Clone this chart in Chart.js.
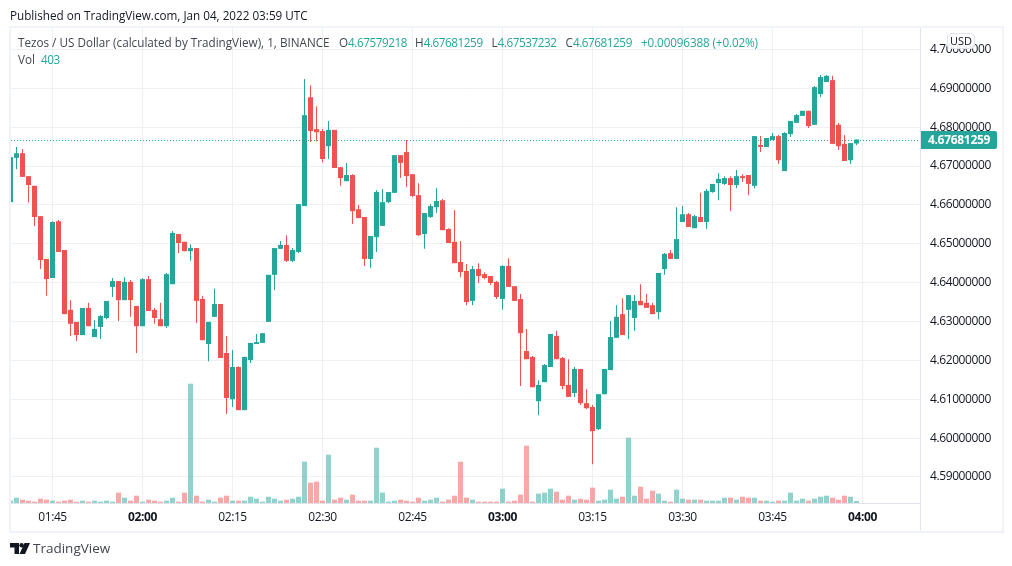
<!DOCTYPE html>
<html><head><meta charset="utf-8">
<script src="https://cdn.jsdelivr.net/npm/chart.js@4/dist/chart.umd.min.js"></script>
<style>
html,body{margin:0;padding:0;background:#fff;width:1012px;height:566px;overflow:hidden}
body{position:relative;font-family:"Open Sans",sans-serif;color:#131722}
canvas{position:absolute;left:0;top:0}
.t{position:absolute;white-space:pre;font-size:11.7px;line-height:16px}
.g{color:#26a69a;letter-spacing:-.42px}
.m{color:#26a69a;letter-spacing:-.12px}
#frame{position:absolute;left:9px;top:26px;width:991px;height:503px;border:2px solid #f0f3fa;box-sizing:content-box}
#sep{position:absolute;left:920px;top:28px;width:1px;height:502px;background:#e0e3eb}
#tag{position:absolute;left:921px;top:131px;width:76px;height:18px;background:#26a69a;color:#fff;font-weight:700;font-size:12px;letter-spacing:-.3px;line-height:18px;text-align:center;border-radius:0 2px 2px 0}
#usd{position:absolute;left:947px;top:33px;width:26px;height:14px;line-height:14px;background:rgba(255,255,255,.9);border:1px solid #e0e3eb;border-radius:4px;font-size:11px;text-align:center}
#logo{position:absolute;left:10px;top:543px}
</style></head><body>
<div id="frame"></div>
<canvas id="c" width="1012" height="566" style="width:1012px;height:566px"></canvas>
<div id="sep"></div>
<div class="t" style="left:10px;top:7px;color:#131722">Published on TradingView.com, Jan 04, 2022 03:59 UTC</div>
<div class="t" style="left:18px;top:34px;color:#434651">Tezos / US Dollar (calculated by TradingView), 1, BINANCE</div>
<div class="t" style="left:339px;top:34px;color:#434651">O<span class="g">4.67579218</span></div>
<div class="t" style="left:415px;top:34px;color:#434651">H<span class="g">4.67681259</span></div>
<div class="t" style="left:491.5px;top:34px;color:#434651">L<span class="g">4.67537232</span></div>
<div class="t" style="left:565.5px;top:34px;color:#434651">C<span class="g">4.67681259</span></div>
<div class="t" style="left:641px;top:34px"><span class="m">+0.00096388 (+0.02%)</span></div>
<div class="t" style="left:18px;top:51px;color:#434651">Vol  <span class="g">403</span></div>
<div id="tag">4.67681259</div>
<div id="usd">USD</div>
<svg id="logo" width="20" height="11" viewBox="0 0 20 11"><path fill="#131722" d="M0 0h9v11H4.5V4.5H0z"/><circle fill="#131722" cx="11.6" cy="2.2" r="2.2"/><path fill="#131722" d="M14.5 0H20L15 11H9.5z"/></svg>
<div class="t" style="left:33px;top:540px;font-size:13.5px;color:#434651">TradingView</div>
<script>
const startMinute = 98; // 01:38
const tickLabelEvery = 15;
const priceTicks = [4.59,4.60,4.61,4.62,4.63,4.64,4.65,4.66,4.67,4.68,4.69,4.70];
const priceLine = 4.67657;
const opens = [
4.6607,4.6721,4.6733,4.6674,4.6649,4.6571,4.6461,4.6412,4.6558,4.6484,
4.6330,4.6299,4.6265,4.6335,4.6260,4.6286,4.6309,4.6389,4.6404,4.6355,
4.6402,4.6340,4.6288,4.6409,4.6330,4.6306,4.6288,4.6396,4.6525,4.6505,
4.6481,4.6489,4.6358,4.6242,4.6312,4.6345,4.6219,4.6100,4.6183,4.6072,
4.6201,4.6242,4.6245,4.6299,4.6420,4.6487,4.6497,4.6456,4.6479,4.6597,
4.6877,4.6795,4.6790,4.6751,4.6793,4.6697,4.6661,4.6677,4.6589,4.6569,
4.6461,4.6517,4.6546,4.6607,4.6631,4.6728,4.6736,4.6679,4.6625,4.6525,
4.6569,4.6594,4.6612,4.6538,4.6505,4.6453,4.6430,4.6353,4.6435,4.6422,
4.6417,4.6402,4.6358,4.6443,4.6391,4.6358,4.6224,4.6209,4.6095,4.6144,
4.6183,4.6263,4.6206,4.6137,4.6116,4.6178,4.6090,4.6080,4.6023,4.6113,
4.6175,4.6258,4.6319,4.6330,4.6309,4.6353,4.6348,4.6342,4.6324,4.6435,
4.6476,4.6461,4.6556,4.6576,4.6540,4.6569,4.6556,4.6633,4.6656,4.6654,
4.6669,4.6651,4.6674,4.6677,4.6649,4.6754,4.6749,4.6767,4.6777,4.6687,
4.6782,4.6811,4.6829,4.6842,4.6806,4.6885,4.6916,4.6921,4.6806,4.6757,
4.6715,4.67579218];
const highs = [
4.6728,4.6749,4.6744,4.6674,4.6649,4.6571,4.6461,4.6558,4.6561,4.6484,
4.6355,4.6299,4.6335,4.6348,4.6304,4.6317,4.6353,4.6412,4.6404,4.6414,
4.6407,4.6340,4.6412,4.6417,4.6335,4.6348,4.6425,4.6533,4.6525,4.6505,
4.6499,4.6489,4.6366,4.6299,4.6384,4.6345,4.6263,4.6227,4.6185,4.6209,
4.6245,4.6268,4.6270,4.6420,4.6489,4.6507,4.6522,4.6489,4.6602,4.6924,
4.6908,4.6854,4.6795,4.6816,4.6793,4.6697,4.6708,4.6679,4.6600,4.6569,
4.6520,4.6638,4.6641,4.6633,4.6728,4.6728,4.6767,4.6679,4.6656,4.6579,
4.6602,4.6643,4.6615,4.6540,4.6587,4.6507,4.6448,4.6443,4.6450,4.6427,
4.6417,4.6404,4.6445,4.6463,4.6391,4.6371,4.6281,4.6211,4.6149,4.6191,
4.6268,4.6276,4.6209,4.6203,4.6183,4.6178,4.6126,4.6085,4.6113,4.6178,
4.6301,4.6342,4.6360,4.6368,4.6368,4.6396,4.6371,4.6348,4.6425,4.6476,
4.6484,4.6594,4.6597,4.6579,4.6574,4.6631,4.6641,4.6654,4.6682,4.6674,
4.6674,4.6690,4.6679,4.6677,4.6777,4.6777,4.6772,4.6785,4.6780,4.6787,
4.6816,4.6834,4.6842,4.6842,4.6906,4.6934,4.6934,4.6932,4.6811,4.6780,
4.6759,4.67681259];
const lows = [
4.6607,4.6692,4.6672,4.6607,4.6546,4.6435,4.6366,4.6412,4.6479,4.6319,
4.6263,4.6250,4.6265,4.6288,4.6260,4.6255,4.6306,4.6363,4.6301,4.6355,
4.6312,4.6219,4.6288,4.6327,4.6294,4.6288,4.6283,4.6396,4.6476,4.6481,
4.6456,4.6296,4.6252,4.6198,4.6312,4.6206,4.6062,4.6080,4.6072,4.6072,
4.6193,4.6242,4.6245,4.6299,4.6381,4.6487,4.6453,4.6453,4.6476,4.6597,
4.6762,4.6764,4.6710,4.6718,4.6695,4.6649,4.6661,4.6551,4.6566,4.6443,
4.6438,4.6479,4.6546,4.6605,4.6631,4.6669,4.6646,4.6620,4.6520,4.6487,
4.6566,4.6579,4.6535,4.6502,4.6450,4.6414,4.6342,4.6342,4.6399,4.6409,
4.6394,4.6358,4.6330,4.6389,4.6353,4.6134,4.6203,4.6131,4.6059,4.6144,
4.6183,4.6203,4.6126,4.6106,4.6106,4.6085,4.6075,4.5933,4.6021,4.6113,
4.6175,4.6258,4.6265,4.6255,4.6276,4.6342,4.6335,4.6319,4.6306,4.6420,
4.6461,4.6461,4.6556,4.6543,4.6540,4.6556,4.6538,4.6631,4.6612,4.6651,
4.6584,4.6643,4.6659,4.6625,4.6643,4.6736,4.6749,4.6767,4.6705,4.6687,
4.6775,4.6811,4.6829,4.6798,4.6806,4.6877,4.6916,4.6757,4.6741,4.6713,
4.6705,4.67537232];
const closes = [
4.6723,4.6733,4.6672,4.6651,4.6569,4.6458,4.6409,4.6556,4.6479,4.6319,
4.6294,4.6265,4.6335,4.6288,4.6281,4.6314,4.6353,4.6404,4.6355,4.6402,
4.6355,4.6288,4.6409,4.6327,4.6309,4.6288,4.6422,4.6528,4.6502,4.6481,
4.6489,4.6353,4.6252,4.6299,4.6345,4.6206,4.6103,4.6183,4.6072,4.6209,
4.6245,4.6247,4.6270,4.6420,4.6489,4.6497,4.6456,4.6484,4.6602,4.6831,
4.6790,4.6787,4.6718,4.6793,4.6695,4.6669,4.6677,4.6584,4.6566,4.6461,
4.6520,4.6633,4.6607,4.6633,4.6728,4.6708,4.6674,4.6623,4.6522,4.6579,
4.6597,4.6610,4.6535,4.6502,4.6450,4.6427,4.6350,4.6435,4.6417,4.6412,
4.6399,4.6363,4.6443,4.6389,4.6353,4.6270,4.6203,4.6131,4.6137,4.6188,
4.6268,4.6203,4.6134,4.6106,4.6178,4.6090,4.6077,4.6018,4.6113,4.6178,
4.6260,4.6312,4.6265,4.6368,4.6353,4.6342,4.6335,4.6319,4.6425,4.6474,
4.6461,4.6512,4.6576,4.6543,4.6571,4.6556,4.6636,4.6654,4.6667,4.6669,
4.6651,4.6674,4.6669,4.6654,4.6777,4.6749,4.6772,4.6777,4.6715,4.6785,
4.6816,4.6831,4.6842,4.6803,4.6903,4.6929,4.6932,4.6757,4.6751,4.6713,
4.6759,4.67681259];
const volumes = [
470,1070,670,470,270,870,670,470,270,470,
670,270,470,270,470,270,470,270,2080,1070,
470,1470,270,670,470,270,470,1070,270,2080,
23990,1470,270,670,270,1070,1470,470,470,470,
1270,870,270,1270,870,470,670,870,1270,8310,
4090,4290,470,9720,670,1070,670,1680,470,470,
470,11120,2080,270,470,670,470,270,1070,470,
670,1070,270,670,1470,8310,1070,670,270,270,
270,270,2880,270,470,1680,11520,270,1880,2080,
2880,2280,670,1470,670,870,670,3080,470,670,
2680,870,1270,13130,1470,3280,870,2480,1880,470,
270,2680,870,670,670,670,470,470,470,1070,
1070,670,1270,1070,1070,470,470,270,470,470,
2080,470,870,470,870,1270,1470,1070,670,1470,
1270,403];

const UP='#26a69a', DOWN='#ef5350', UPV='rgba(38,166,154,.5)', DOWNV='rgba(239,83,80,.5)';
const GRID='#eff0f3';
const minuteOf = i => startMinute + i;
const isUp = i => closes[i] >= opens[i];
const fmt = m => String(Math.floor(m/60)).padStart(2,'0')+':'+String(m%60).padStart(2,'0');
const FONT = '"Open Sans", sans-serif';
const barBase = {type:'bar',grouped:false,barPercentage:1,categoryPercentage:1,borderWidth:0,borderSkipped:false,inflateAmount:0};
const spacing = {id:'spacing',beforeDraw(c){ try{c.ctx.letterSpacing='-0.4px';}catch(e){} }};

new Chart(document.getElementById('c'),{
  plugins:[spacing],
  data:{datasets:[
    {...barBase,label:'Volume',order:4,yAxisID:'yVol',maxBarThickness:5,
     data:volumes.map((v,i)=>({x:minuteOf(i),y:v})),
     backgroundColor:volumes.map((v,i)=>isUp(i)?UPV:DOWNV)},
    {type:'line',label:'Last',order:3,yAxisID:'y',borderColor:UP,borderWidth:1,borderDash:[1,2],pointRadius:0,
     data:[{x:98.083,y:priceLine},{x:249.583,y:priceLine}]},
    {...barBase,label:'Wick',order:2,yAxisID:'y',maxBarThickness:1,
     data:highs.map((h,i)=>({x:minuteOf(i),y:[lows[i],h]})),
     backgroundColor:highs.map((h,i)=>isUp(i)?UP:DOWN)},
    {...barBase,label:'Body',order:1,yAxisID:'y',maxBarThickness:5,
     data:opens.map((o,i)=>({x:minuteOf(i),y:[Math.min(o,closes[i]),Math.max(o,closes[i])]})),
     backgroundColor:opens.map((o,i)=>isUp(i)?UP:DOWN)}
  ]},
  options:{
    responsive:false,animation:false,devicePixelRatio:1,
    layout:{padding:{left:11,right:0,top:28,bottom:0}},
    plugins:{legend:{display:false},tooltip:{enabled:false}},
    scales:{
      x:{type:'linear',offset:false,min:98.083,max:249.583,
         afterFit:s=>{s.height=63},
         border:{color:'#e0e3eb',width:1},
         grid:{color:GRID,drawTicks:false,offset:false},
         ticks:{stepSize:tickLabelEvery,includeBounds:false,autoSkip:false,maxRotation:0,padding:7,color:'#131722',
           font:c=>({family:FONT,size:12,weight:(c.tick&&c.tick.value%60===0)?'700':'400'}),
           callback:v=>fmt(v)}},
      y:{position:'right',min:4.58331,max:4.70551,
         afterFit:s=>{s.width=92},
         afterBuildTicks:s=>{s.ticks=priceTicks.map(v=>({value:v}))},
         border:{display:false},
         grid:{color:GRID,drawTicks:false},
         ticks:{padding:10,color:'#131722',font:{family:FONT,size:12},callback:v=>v.toFixed(8)}},
      yVol:{display:false,min:0,max:95500}
    }
  }
});
</script>
</body></html>
